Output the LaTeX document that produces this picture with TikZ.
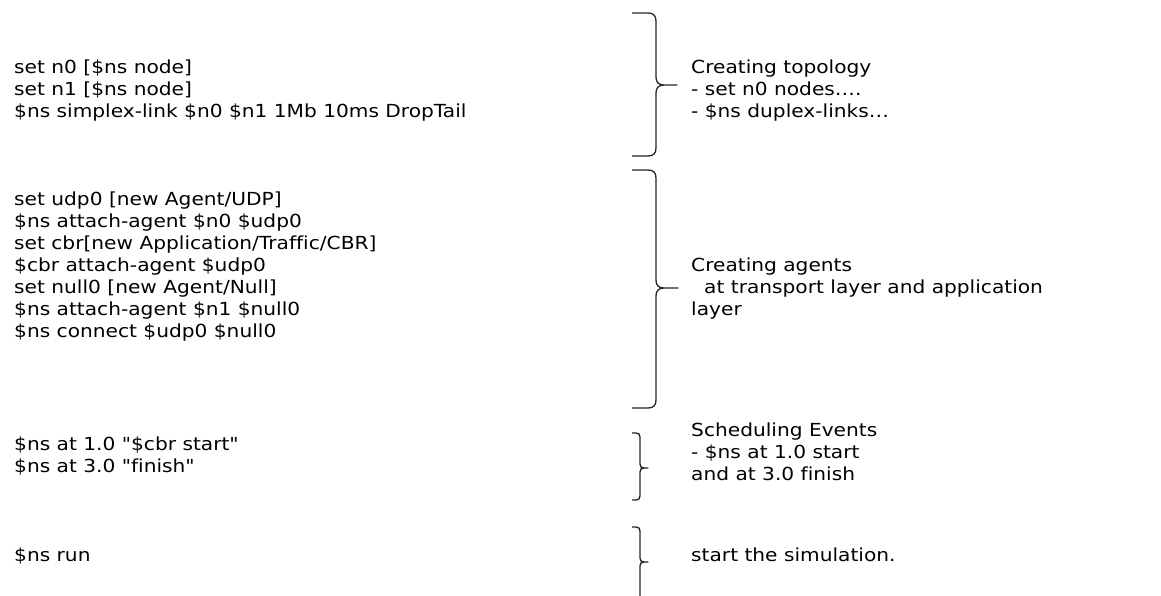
\documentclass[tikz,border=0pt]{standalone}
\usepackage{fontspec}
\setmainfont{DejaVu Sans}[FakeStretch=1.12,Ligatures={TeXOff,CommonOff}]
\newcommand\wbrace[7]{% #1 tick start x, #2 spine x, #3 tip x, #4 top y, #5 tip y, #6 bottom y, #7 bend
  \draw[bracestroke]
    (#1,#4) -- ({#2-#7},#4)
    .. controls ({#2-#7/3},#4) and (#2,{#4+#7/3}) .. (#2,{#4+#7})
    -- (#2,{#5-#7})
    .. controls (#2,{#5-#7/3}) and ({#2+#7/3},#5) .. ({#2+#7},#5)
    -- (#3,#5) -- ({#2+#7},#5)
    .. controls ({#2+#7/3},#5) and (#2,{#5+#7/3}) .. (#2,{#5+#7})
    -- (#2,{#6-#7})
    .. controls (#2,{#6-#7/3}) and ({#2-#7/3},#6) .. ({#2-#7},#6)
    -- (#1,#6);}
\begin{document}
\begin{tikzpicture}[x=1pt,y=-1pt,
  line/.style={anchor=base west,inner sep=0pt,font=\fontsize{18}{22}\selectfont},
  bracestroke/.style={line width=1.3pt,draw=black!85,line join=round}]
\useasboundingbox[fill=white] (0,0) rectangle (1161,595);

% script lines
\node[line] (c1)  at (14,73)  {set n0 [\$ns node]};
\node[line] (c2)  at (14,95)  {set n1 [\$ns node]};
\node[line] (c3)  at (14,117) {\$ns simplex-link \$n0 \$n1 1Mb 10ms DropTail};
\node[line] (c4)  at (14,205) {set udp0 [new Agent/UDP]};
\node[line] (c5)  at (14,227) {\$ns attach-agent \$n0 \$udp0};
\node[line] (c6)  at (14,249) {set cbr[new Application/Traffic/CBR]};
\node[line] (c7)  at (14,271) {\$cbr attach-agent \$udp0};
\node[line] (c8)  at (14,293) {set null0 [new Agent/Null]};
\node[line] (c9)  at (14,315) {\$ns attach-agent \$n1 \$null0};
\node[line] (c10) at (14,337) {\$ns connect \$udp0 \$null0};
\node[line] (c11) at (14,450) {\$ns at 1.0 "\$cbr start"};
\node[line] (c12) at (14,472) {\$ns at 3.0 "finish"};
\node[line] (c13) at (14,561) {\$ns run};

% explanations
\node[line] (e1)  at (691,73)  {Creating topology};
\node[line] (e2)  at (691,95)  {- set n0 nodes….};
\node[line] (e3)  at (691,117) {- \$ns duplex-links…};
\node[line] (e4)  at (691,271) {Creating agents};
\node[line] (e5)  at (704,293) {at transport layer and application};
\node[line] (e6)  at (691,315) {layer};
\node[line] (e7)  at (691,436) {Scheduling Events};
\node[line] (e8)  at (691,458) {- \$ns at 1.0 start};
\node[line] (e9)  at (691,480) {and at 3.0 finish};
\node[line] (e10) at (691,561) {start the simulation.};

% braces grouping the script
\wbrace{632}{656}{677}{13}{85}{156}{8}
\wbrace{632}{656}{678}{170}{288}{408}{8}
\wbrace{632}{640}{648}{433}{468}{500}{4}
\wbrace{632}{640}{648}{527}{562}{600}{4}
\end{tikzpicture}
\end{document}
